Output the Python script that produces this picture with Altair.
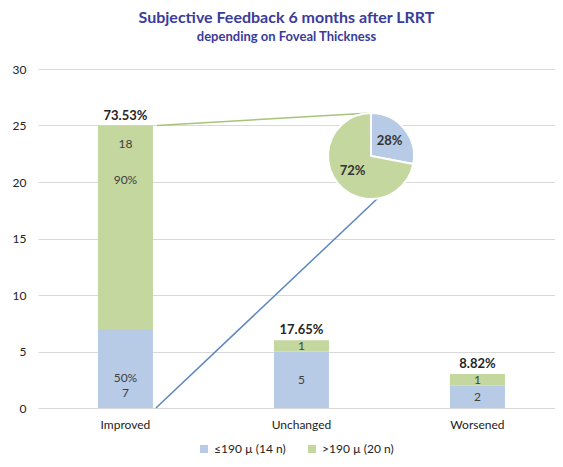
import altair as alt
import pandas as pd

categories = ["Improved", "Unchanged", "Worsened"]
groups = ["≤190 µ (14 n)", ">190 µ (20 n)"]
low_counts = [7, 5, 2]
high_counts = [18, 1, 1]

BLUE = "#B7CBE6"
GREEN = "#C4D79F"
FONT = "Lato"
TXT = "#404040"

grand_total = sum(low_counts) + sum(high_counts)
group_totals = [sum(low_counts), sum(high_counts)]

rows = []
for i, c in enumerate(categories):
    base = 0
    for g, counts in enumerate([low_counts, high_counts]):
        v = counts[i]
        rows.append(dict(cat=c, group=groups[g], order=g, count=v,
                         y0=base, y1=base + v, mid=base + v / 2,
                         gpct=f"{round(100 * v / group_totals[g])}%"))
        base += v
df = pd.DataFrame(rows)

tot = pd.DataFrame(dict(
    cat=categories,
    total=[l + h for l, h in zip(low_counts, high_counts)],
))
tot["label"] = [f"{100 * t / grand_total:.2f}%" for t in tot["total"]]
tot["zero"] = 0

imp = df[df.cat == "Improved"].copy()
imp_total = imp["count"].sum()
imp["ppct"] = [f"{round(100 * v / imp_total)}%" for v in imp["count"]]

xscale = alt.Scale(paddingInner=0.6875, paddingOuter=0.3125, align=0.545)
xenc = alt.X("cat:N", sort=categories, title=None, scale=xscale,
             axis=alt.Axis(labelAngle=0, labelFont=FONT, labelFontSize=12,
                           labelColor="#222", labelPadding=11, ticks=False,
                           domain=False, grid=False))
yscale = alt.Scale(domain=[0, 30])
color = alt.Color("group:N", scale=alt.Scale(domain=groups, range=[BLUE, GREEN]),
                  legend=alt.Legend(orient="none", legendX=160, legendY=374,
                                    direction="horizontal", title=None,
                                    symbolType="square", symbolSize=64,
                                    symbolStrokeWidth=0, labelFont=FONT,
                                    labelFontSize=12, labelColor="#222",
                                    columnPadding=20))

bars = alt.Chart(df).mark_bar().encode(
    x=xenc,
    y=alt.Y("y0:Q", scale=yscale, title=None,
            axis=alt.Axis(values=[0, 5, 10, 15, 20, 25, 30], labelFont=FONT,
                          labelFontSize=12, labelColor="#222", labelPadding=12,
                          ticks=False, domain=False, gridColor="#d9d9d9")),
    y2="y1",
    color=color,
)

X = alt.X("cat:N", sort=categories)
other = df[df.cat != "Improved"]
count_lbl = alt.Chart(other).mark_text(font=FONT, fontSize=12, color=TXT).encode(
    x=X, y=alt.Y("mid:Q", scale=yscale), text="count:Q")

imp_low = imp[imp.order == 0]
imp_high = imp[imp.order == 1]
low_pct = alt.Chart(imp_low).mark_text(font=FONT, fontSize=12, color=TXT, dy=-30).encode(
    x=X, y=alt.Y("y0:Q", scale=yscale), text="gpct:N")
low_cnt = alt.Chart(imp_low).mark_text(font=FONT, fontSize=12, color=TXT, dy=-15).encode(
    x=X, y=alt.Y("y0:Q", scale=yscale), text="count:Q")
high_cnt = alt.Chart(imp_high).mark_text(font=FONT, fontSize=12, color=TXT, dy=18).encode(
    x=X, y=alt.Y("y1:Q", scale=yscale), text="count:Q")
high_pct = alt.Chart(imp_high).mark_text(font=FONT, fontSize=12, color=TXT, dy=54).encode(
    x=X, y=alt.Y("y1:Q", scale=yscale), text="gpct:N")

totals = alt.Chart(tot).mark_text(font=FONT, fontSize=13, fontWeight="bold",
                                  color="#262626", dy=-10).encode(
    x=X, y=alt.Y("total:Q", scale=yscale), text="label:N")

imp_tot = tot[tot.cat == "Improved"]
green_line = alt.Chart(imp_tot).mark_rule(color="#A6C47A", strokeWidth=1.5, xOffset=4).encode(
    x=alt.X("cat:N", sort=categories, bandPosition=1),
    y=alt.Y("total:Q", scale=yscale),
    x2=alt.value(333), y2=alt.value(44))
blue_line = alt.Chart(imp_tot).mark_rule(color="#5B86C0", strokeWidth=1.5, xOffset=3).encode(
    x=alt.X("cat:N", sort=categories, bandPosition=1),
    y=alt.Y("zero:Q", scale=yscale),
    x2=alt.value(340), y2=alt.value(129))

pie = alt.Chart(imp).mark_arc(outerRadius=43, stroke="white", strokeWidth=2).encode(
    theta=alt.Theta("count:Q", stack=True),
    order=alt.Order("order:Q"),
    color=color,
    x=alt.value(333), y=alt.value(87))
pie_txt = alt.Chart(imp).mark_text(radius=24, font=FONT, fontSize=13,
                                   fontWeight="bold", color="#333").encode(
    theta=alt.Theta("count:Q", stack=True),
    order=alt.Order("order:Q"),
    text="ppct:N",
    x=alt.value(333), y=alt.value(87))

chart = alt.layer(bars, count_lbl, low_pct, low_cnt, high_cnt, high_pct, totals,
                  green_line, blue_line, pie, pie_txt).properties(
    width=517, height=339,
    padding={"left": 30, "top": 61, "right": 0, "bottom": 51},
    autosize=alt.AutoSizeParams(type="none"),
    title=alt.Title("Subjective Feedback 6 months after LRRT",
                    subtitle="depending on Foveal Thickness",
                    font=FONT, subtitleFont=FONT, fontSize=16, subtitleFontSize=13,
                    fontWeight="bold", subtitleFontWeight="bold",
                    color="#3B3C99", subtitleColor="#3B3C99",
                    anchor="middle", dx=-10, offset=19, subtitlePadding=5),
).configure_view(stroke=None)

chart.save("out.html", embed_options={"renderer": "svg", "actions": False})
